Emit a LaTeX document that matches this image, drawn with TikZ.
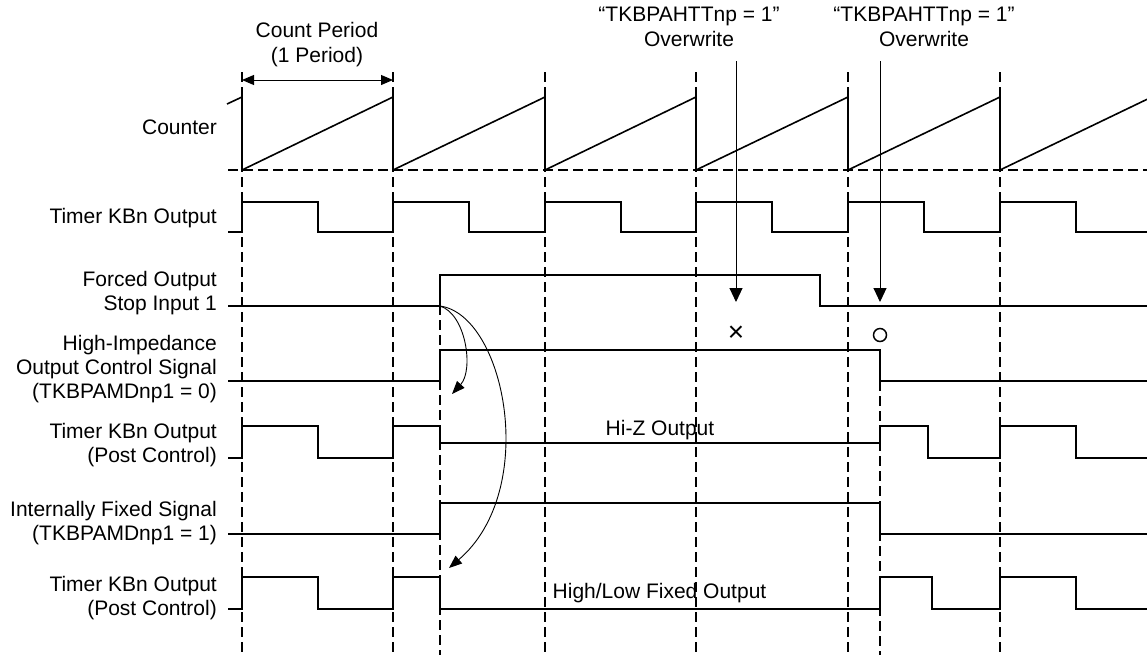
\documentclass[tikz,border=0pt]{standalone}
\usepackage{fontspec}
\setmainfont{Liberation Sans}
\usetikzlibrary{arrows.meta}
\begin{document}
\begin{tikzpicture}[x=1pt,y=-1pt,
  sig/.style={line width=1.9pt, line join=miter},
  ramp/.style={line width=1.6pt},
  gridln/.style={line width=2pt, dash pattern=on 10pt off 5pt},
  thinarrow/.style={line width=1pt, -{Triangle[length=14pt,width=13pt]}},
  curvearrow/.style={line width=0.9pt, -{Triangle[length=13pt,width=10pt]}},
  periodarrow/.style={line width=1pt, {Triangle[length=12pt,width=10pt]}-{Triangle[length=12pt,width=10pt]}},
  lbl/.style={font=\fontsize{21}{24}\selectfont, align=right, anchor=north east, inner sep=0pt},
  toplbl/.style={font=\fontsize{21}{25}\selectfont, align=center, anchor=north, inner sep=0pt},
  wavetxt/.style={font=\fontsize{21}{24}\selectfont, anchor=base, inner sep=0pt}
]
\useasboundingbox (0,0) rectangle (1147,657);

% ---- grid (dashed) ----
\foreach \xx in {242,393,545,696,848,1000}
  \draw[gridln] (\xx,72) -- (\xx,655);
\draw[gridln] (440,275) -- (440,655);
\draw[gridln] (880,381) -- (880,655);
\draw[gridln] (228,170) -- (1147,170);

% ---- labels ----
\node[lbl] (lcounter) at (217,119.7) {Counter};
\node[lbl] (ltimer) at (217,207.7) {Timer KBn Output};
\node[lbl] (lforced) at (217,271.2) {Forced Output\\Stop Input 1};
\node[lbl] (lhiz) at (217,335.4) {High-Impedance\\Output Control Signal\\(TKBPAMDnp1 = 0)};
\node[lbl] (lpost1) at (217,423.2) {Timer KBn Output\\(Post Control)};
\node[lbl] (lfixed) at (217,500.7) {Internally Fixed Signal\\(TKBPAMDnp1 = 1)};
\node[lbl] (lpost2) at (217,576.2) {Timer KBn Output\\(Post Control)};

\node[toplbl] (lperiod) at (317,21.7) {Count Period\\(1 Period)};
\node[toplbl] (low1) at (689,6.7) {“TKBPAHTTnp = 1”\\Overwrite};
\node[toplbl] (low2) at (924,6.7) {“TKBPAHTTnp = 1”\\Overwrite};

% ---- count period arrow ----
\coordinate (cpl) at (242,80);
\coordinate (cpr) at (393,80);
\draw[periodarrow] (cpl) -- (cpr);

% ---- counter ----
\draw[ramp] (227,104) -- (242,97) -- (242,170)
  -- (393,97) -- (393,170)
  -- (545,97) -- (545,170)
  -- (696,97) -- (696,170)
  -- (848,97) -- (848,170)
  -- (1000,97) -- (1000,170)
  -- (1147,99.3);

% ---- Timer KBn Output ----
\draw[sig] (228,232) -- (242,232) -- (242,202) -- (318,202) -- (318,232)
  -- (393,232) -- (393,202) -- (469,202) -- (469,232)
  -- (545,232) -- (545,202) -- (621,202) -- (621,232)
  -- (696,232) -- (696,202) -- (772,202) -- (772,232)
  -- (848,232) -- (848,202) -- (924,202) -- (924,232)
  -- (1000,232) -- (1000,202) -- (1076,202) -- (1076,232) -- (1147,232);

% ---- Forced Output Stop Input 1 ----
\draw[sig] (228,306) -- (440,306) -- (440,275) -- (820,275) -- (820,306) -- (1147,306);

% ---- High-Impedance Output Control Signal ----
\draw[sig] (228,381) -- (440,381) -- (440,350) -- (880,350) -- (880,381) -- (1147,381);

% ---- Timer KBn Output (Post Control) 1 ----
\draw[sig] (228,458) -- (242,458) -- (242,426) -- (318,426) -- (318,458)
  -- (393,458) -- (393,426) -- (440,426) -- (440,443) -- (880,443)
  -- (880,426) -- (928,426) -- (928,458) -- (1000,458) -- (1000,426)
  -- (1076,426) -- (1076,458) -- (1147,458);
\node[wavetxt] (thiz) at (660,435) {Hi-Z Output};

% ---- Internally Fixed Signal ----
\draw[sig] (228,534) -- (440,534) -- (440,503) -- (880,503) -- (880,534) -- (1147,534);

% ---- Timer KBn Output (Post Control) 2 ----
\draw[sig] (228,609) -- (242,609) -- (242,577) -- (318,577) -- (318,609)
  -- (393,609) -- (393,577) -- (440,577) -- (440,609) -- (880,609)
  -- (880,577) -- (932,577) -- (932,609) -- (1000,609) -- (1000,577)
  -- (1076,577) -- (1076,609) -- (1147,609);
\node[wavetxt] (tfixed) at (659.5,598) {High/Low Fixed Output};

% ---- overwrite arrows ----
\coordinate (ow1s) at (736,61);
\coordinate (ow1e) at (736,302);
\coordinate (ow2s) at (880,61);
\coordinate (ow2e) at (880,302);
\draw[thinarrow] (ow1s) -- (ow1e);
\draw[thinarrow] (ow2s) -- (ow2e);
\node[font=\fontsize{28}{28}\selectfont, inner sep=0pt] (xmark) at (736,334) {×};
\node[circle, draw, line width=1.5pt, minimum size=13pt, inner sep=0pt] (omark) at (880,335) {};

% ---- curved arrows ----
\coordinate (fsrise) at (440,306);
\coordinate (tipA) at (452,394);
\coordinate (tipB) at (449,568);
\draw[curvearrow] (fsrise) .. controls (466,314) and (474,370) .. (tipA);
\draw[curvearrow] (fsrise) .. controls (505,315) and (540,490) .. (tipB);
\end{tikzpicture}
\end{document}
